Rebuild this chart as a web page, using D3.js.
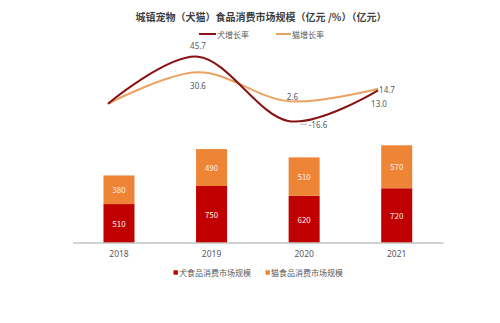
<!DOCTYPE html>
<html>
<head>
<meta charset="utf-8">
<script src="https://cdn.jsdelivr.net/npm/d3@7"></script>
<style>
  body { margin: 0; background: #fff; }
  svg { display: block; font-family: "Noto Sans CJK SC", "Noto Sans", sans-serif; }
</style>
</head>
<body>
<svg id="chart" width="500" height="323"></svg>
<script>
// Market size (亿元) by year
const years = ["2018", "2019", "2020", "2021"];
const dogFood = [510, 750, 620, 720];
const catFood = [380, 490, 510, 570];
// Growth rates (%)
const dogGrowth = [0, 45.7, -16.6, 13.0];
const catGrowth = [0, 30.6, 2.6, 14.7];
const showRateLabel = [false, true, true, true];

const title = "城镇宠物（犬猫）食品消费市场规模（亿元 /%）（亿元）";
const barSeriesNames = ["犬食品消费市场规模", "猫食品消费市场规模"];
const lineSeriesNames = ["犬增长率", "猫增长率"];

const colors = {
  dogBar: "#c00000",
  catBar: "#ee8435",
  dogLine: "#8a1212",
  catLine: "#eaa260",
  text: "#595959",
  axis: "#a6a6a6"
};

const svg = d3.select("#chart");

// ---- bar layer ----
const x = d3.scaleBand().domain(years).range([72.7, 443]).paddingInner(0.665).paddingOuter(0.3325);
const y = d3.scaleLinear().domain([0, 3000]).range([242.5, 16.5]);

const rows = years.map((yr, i) => ({ year: yr, dog: dogFood[i], cat: catFood[i] }));
const stacked = d3.stack().keys(["dog", "cat"])(rows);
const barColor = { dog: colors.dogBar, cat: colors.catBar };

const barG = svg.append("g");
stacked.forEach(layer => {
  const g = barG.append("g");
  g.selectAll("rect").data(layer).join("rect")
    .attr("x", d => x(d.data.year))
    .attr("width", x.bandwidth())
    .attr("y", d => y(d[1]))
    .attr("height", d => y(d[0]) - y(d[1]))
    .attr("fill", barColor[layer.key]);
  g.selectAll("text").data(layer).join("text")
    .attr("x", d => x(d.data.year) + x.bandwidth() / 2)
    .attr("y", d => (y(d[0]) + y(d[1])) / 2)
    .attr("text-anchor", "middle")
    .attr("dominant-baseline", "central")
    .attr("font-size", 8)
    .attr("fill", "#fbeee6")
    .text(d => d[1] - d[0]);
});

// category axis
const xAxis = d3.axisBottom(x).tickSize(0).tickPadding(8);
const axG = svg.append("g").attr("transform", `translate(0,${y(0)})`).call(xAxis);
axG.select(".domain").attr("stroke", colors.axis).attr("stroke-width", 1);
axG.selectAll("text").attr("font-size", 8.5).attr("fill", colors.text)
  .attr("font-family", "'Noto Sans', sans-serif");

// ---- growth-rate layer ----
const xl = d3.scalePoint().domain(years).range([108, 378]);
const yl = d3.scaleLinear().domain([-20, 50]).range([124.4, 52.3]);
const line = d3.line().x((d, i) => xl(years[i])).y(d => yl(d)).curve(d3.curveCardinal.tension(0));

svg.append("path").attr("d", line(catGrowth))
  .attr("fill", "none").attr("stroke", colors.catLine).attr("stroke-width", 2);
svg.append("path").attr("d", line(dogGrowth))
  .attr("fill", "none").attr("stroke", colors.dogLine).attr("stroke-width", 2);

// label offsets from each point
const dogLabelOffset = [null, [0, -11.7], [30, 3.6], [1, 13]];
const catLabelOffset = [null, [0, 13.7], [4.5, -5], [9, 1]];

function rateLabels(values, offsets) {
  svg.append("g").selectAll("text")
    .data(values.map((v, i) => ({ v, i })).filter(d => showRateLabel[d.i]))
    .join("text")
    .attr("x", d => xl(years[d.i]) + offsets[d.i][0])
    .attr("y", d => yl(d.v) + offsets[d.i][1])
    .attr("text-anchor", "middle")
    .attr("dominant-baseline", "central")
    .attr("font-size", 8)
    .attr("fill", colors.text)
    .attr("font-family", "'Noto Sans', sans-serif")
    .text(d => d.v.toFixed(1));
}
rateLabels(dogGrowth, dogLabelOffset);
rateLabels(catGrowth, catLabelOffset);

// leader line for the 2020 dog label
svg.append("line")
  .attr("x1", xl("2020") + 12).attr("y1", yl(dogGrowth[2]) + 3.2)
  .attr("x2", xl("2020") + 19).attr("y2", yl(dogGrowth[2]) + 3.6)
  .attr("stroke", "#a6a6a6").attr("stroke-width", 0.8);

// ---- title ----
svg.append("text")
  .attr("x", 261).attr("y", 16)
  .attr("text-anchor", "middle").attr("dominant-baseline", "central")
  .attr("font-size", 10).attr("font-weight", "bold").attr("fill", "#404040")
  .text(title);

// ---- top legend (lines) ----
const topLegend = [
  { name: lineSeriesNames[0], color: colors.dogLine, x: 199, len: 17 },
  { name: lineSeriesNames[1], color: colors.catLine, x: 276, len: 15 }
];
const tl = svg.append("g").selectAll("g").data(topLegend).join("g")
  .attr("transform", d => `translate(${d.x},34)`);
tl.append("line").attr("x1", 0).attr("x2", d => d.len)
  .attr("stroke", d => d.color).attr("stroke-width", 2);
tl.append("text").attr("x", d => d.len + 1).attr("dominant-baseline", "central")
  .attr("font-size", 8).attr("fill", colors.text).text(d => d.name);

// ---- bottom legend (bars) ----
const bottomLegend = [
  { name: barSeriesNames[0], color: colors.dogBar, x: 173.5 },
  { name: barSeriesNames[1], color: colors.catBar, x: 265.5 }
];
const bl = svg.append("g").selectAll("g").data(bottomLegend).join("g")
  .attr("transform", d => `translate(${d.x},272.5)`);
bl.append("rect").attr("x", 0).attr("y", -2.2).attr("width", 4.4).attr("height", 4.4)
  .attr("fill", d => d.color);
bl.append("text").attr("x", 5.5).attr("dominant-baseline", "central")
  .attr("font-size", 8).attr("fill", colors.text).text(d => d.name);
</script>
</body>
</html>
